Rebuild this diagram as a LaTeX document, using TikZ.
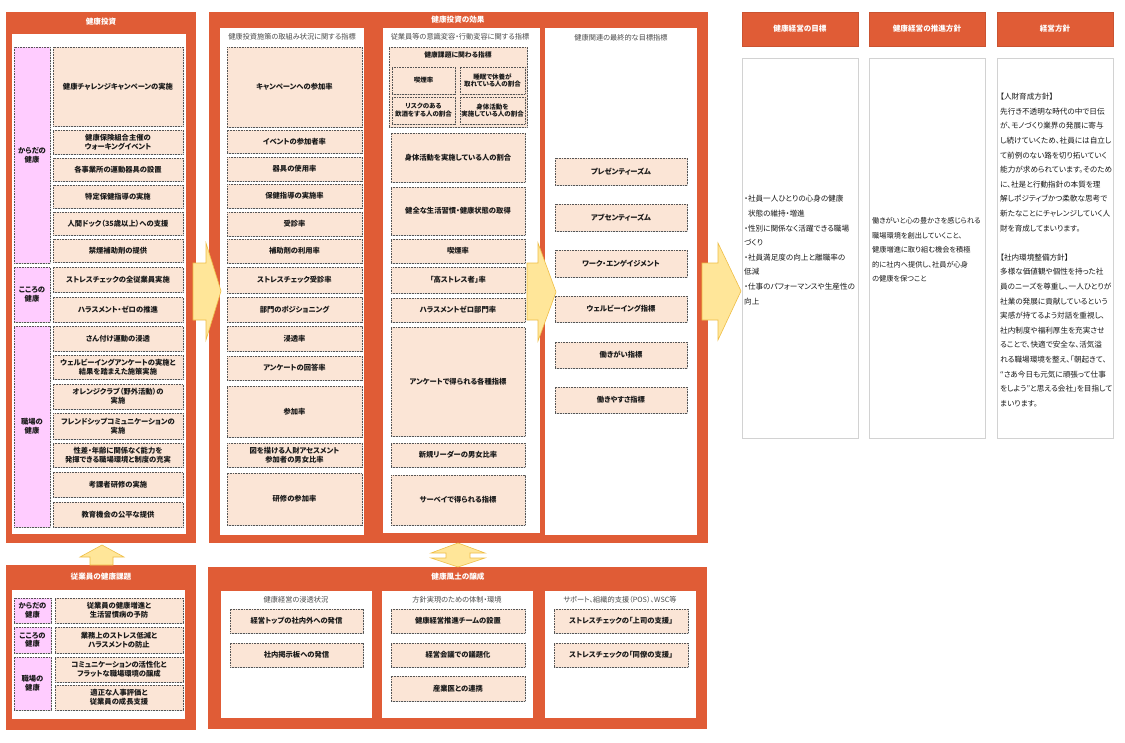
\documentclass[tikz,border=0pt]{standalone}
\usepackage{fontspec}
\setmainfont{Noto Sans CJK JP}[RawFeature=+palt]
\usetikzlibrary{shadows}
\definecolor{org}{RGB}{224,92,54}
\definecolor{peach}{RGB}{251,229,214}
\definecolor{pinkl}{RGB}{255,204,255}
\definecolor{yel}{RGB}{255,230,153}
\definecolor{yeld}{RGB}{238,190,70}
\definecolor{dotc}{RGB}{85,85,85}
\definecolor{txt}{RGB}{25,25,25}
\definecolor{subc}{RGB}{75,75,75}
\newcommand\ibox[7][itembox]{%
  \pgfmathsetmacro\myW{#5-#3}\pgfmathsetmacro\myH{#6-#4}%
  \node[#1,minimum width=\myW pt,minimum height=\myH pt] (#2) at ({(#3+#5)/2},{(#4+#6)/2}) {#7};}
\begin{document}
\begin{tikzpicture}[x=1pt,y=-1pt,
  itembox/.style={draw=dotc,dash pattern=on 0.8pt off 0.8pt,line width=0.7pt,fill=peach,
    inner sep=0pt,align=center,text=txt,font=\bfseries\fontsize{7.3}{8.8}\selectfont,
    drop shadow={shadow xshift=0.6pt,shadow yshift=-0.6pt,opacity=0.3}},
  smallbox/.style={itembox,font=\bfseries\fontsize{6.5}{7.9}\selectfont},
  groupbox/.style={itembox},
  pinkbox/.style={itembox,fill=pinkl},
  panel/.style={fill=org,draw=none,inner sep=0pt},
  whitebox/.style={fill=white,draw=none,inner sep=0pt},
  rbox/.style={fill=white,draw=gray!35,line width=0.8pt,inner sep=0pt},
  hbox/.style={fill=org,draw=org!90!black,line width=0.4pt,inner sep=0pt,text=white,
    font=\bfseries\fontsize{7.6}{9}\selectfont},
  ttl/.style={text=white,font=\bfseries\fontsize{7.6}{9}\selectfont,inner sep=0pt},
  subh/.style={text=subc,font=\fontsize{7.2}{8.4}\selectfont,inner sep=0pt},
  rtext/.style={anchor=west,align=left,text=txt,inner sep=0pt,font=\fontsize{7.6}{14.6}\selectfont},
  bigarrow/.style={fill=yel,draw=yeld,line width=0.6pt,line join=miter}]
\useasboundingbox (0,0) rectangle (1125,742);
\fill[white] (0,0) rectangle (1125,742);

% ---------- orange panels ----------
\ibox[panel]{P1}{6}{12}{196}{543}{}
\ibox[panel]{P2}{209}{12}{708}{543}{}
\ibox[panel]{P3}{6}{565}{196}{730}{}
\ibox[panel]{P4}{208}{567}{707}{729}{}
\node[ttl] (t1) at (101,22) {健康投資};
\node[ttl] (t2) at (458,20) {健康投資の効果};
\node[ttl] (t3) at (101,577) {従業員の健康課題};
\node[ttl] (t4) at (458,577) {健康風土の醸成};

% ---------- white inner panels ----------
\ibox[whitebox]{W1}{12}{34}{186}{534}{}
\ibox[whitebox]{W2a}{220}{28}{364}{535}{}
\ibox[whitebox]{W2b}{383}{28}{540}{533}{}
\ibox[whitebox]{W2c}{545}{28}{697}{535}{}
\ibox[whitebox]{W3}{12}{590}{185}{719}{}
\ibox[whitebox]{W4a}{221}{591}{372}{718}{}
\ibox[whitebox]{W4b}{382}{591}{533}{718}{}
\ibox[whitebox]{W4c}{545}{591}{696}{718}{}

% ---------- sub headings ----------
\node[subh] (h2a) at (292,37) {健康投資施策の取組み状況に関する指標};
\node[subh] (h2b) at (460,37) {従業員等の意識変容・行動変容に関する指標};
\node[subh] (h2c) at (621,38) {健康関連の最終的な目標指標};
\node[subh] (h4a) at (296,600) {健康経営の浸透状況};
\node[subh] (h4b) at (457,600) {方針実現のための体制・環境};
\node[subh] (h4c) at (620,600) {サポート、組織的支援（POS）、WSC等};

% ---------- 健康投資 ----------
\ibox[pinkbox]{K1}{14}{47}{50}{263}{からだの\\健康}
\ibox[pinkbox]{K2}{14}{267}{50}{322}{こころの\\健康}
\ibox[pinkbox]{K3}{14}{326}{50}{527}{職場の\\健康}
\ibox{L1}{53}{47}{183}{126}{健康チャレンジキャンペーンの実施}
\ibox{L2}{53}{130}{183}{154}{健康保険組合主催の\\ウォーキングイベント}
\ibox{L3}{53}{158}{183}{181}{各事業所の運動器具の設置}
\ibox{L4}{53}{185}{183}{208}{特定保健指導の実施}
\ibox{L5}{53}{212}{183}{235}{人間ドック（35歳以上）への支援}
\ibox{L6}{53}{239}{183}{262}{禁煙補助剤の提供}
\ibox{L7}{53}{267}{183}{292}{ストレスチェックの全従業員実施}
\ibox{L8}{53}{297}{183}{322}{ハラスメント・ゼロの推進}
\ibox{L9}{53}{326}{183}{351}{さん付け運動の浸透}
\ibox{L10}{53}{355}{183}{379}{ウェルビーイングアンケートの実施と\\結果を踏まえた施策実施}
\ibox{L11}{53}{384}{183}{409}{オレンジクラブ（野外活動）の\\実施}
\ibox{L12}{53}{413}{183}{439}{フレンドシップコミュニケーションの\\実施}
\ibox{L13}{53}{443}{183}{467}{性差・年齢に関係なく能力を\\発揮できる職場環境と制度の充実}
\ibox{L14}{53}{472}{183}{497}{考課者研修の実施}
\ibox{L15}{53}{502}{183}{527}{教育機会の公平な提供}

% ---------- 効果 col 1 ----------
\ibox{M1}{227}{47}{362}{127}{キャンペーンへの参加率}
\ibox{M2}{227}{130}{362}{153}{イベントの参加者率}
\ibox{M3}{227}{157}{362}{181}{器具の使用率}
\ibox{M4}{227}{184}{362}{208}{保健指導の実施率}
\ibox{M5}{227}{212}{362}{236}{受診率}
\ibox{M6}{227}{239}{362}{263}{補助剤の利用率}
\ibox{M7}{227}{267}{362}{293}{ストレスチェック受診率}
\ibox{M8}{227}{297}{362}{322}{部門のポジショニング}
\ibox{M9}{227}{326}{362}{351}{浸透率}
\ibox{M10}{227}{356}{362}{380}{アンケートの回答率}
\ibox{M11}{227}{386}{362}{437}{参加率}
\ibox{M12}{227}{443}{362}{467}{図を描ける人財アセスメント\\参加者の男女比率}
\ibox{M13}{227}{473}{362}{525}{研修の参加率}

% ---------- 効果 col 2 ----------
\ibox[groupbox]{G}{389}{47}{527}{127}{}
\node[font=\bfseries\fontsize{6.8}{8}\selectfont,text=txt,inner sep=0pt] (Gt) at (458,55) {健康課題に関わる指標};
\ibox[smallbox]{S1}{392}{67}{455}{94}{喫煙率}
\ibox[smallbox]{S2}{460}{67}{525}{94}{睡眠で休養が\\取れている人の割合}
\ibox[smallbox]{S3}{392}{97}{455}{124}{リスクのある\\飲酒をする人の割合}
\ibox[smallbox]{S4}{460}{97}{525}{124}{身体活動を\\実施している人の割合}
\ibox{N1}{391}{133}{525}{182}{身体活動を実施している人の割合}
\ibox{N2}{391}{187}{525}{235}{健全な生活習慣・健康状態の取得}
\ibox{N3}{391}{239}{525}{263}{喫煙率}
\ibox{N4}{391}{267}{525}{293}{「高ストレス者」率}
\ibox{N5}{391}{298}{525}{322}{ハラスメントゼロ部門率}
\ibox{N6}{391}{327}{525}{436}{アンケートで得られる各種指標}
\ibox{N7}{391}{443}{525}{467}{新規リーダーの男女比率}
\ibox{N8}{391}{475}{525}{525}{サーベイで得られる指標}

% ---------- 効果 col 3 ----------
\ibox{F1}{555}{158}{687}{185}{プレゼンティーズム}
\ibox{F2}{555}{204}{687}{231}{アブセンティーズム}
\ibox{F3}{555}{250}{687}{277}{ワーク・エンゲイジメント}
\ibox{F4}{555}{296}{687}{322}{ウェルビーイング指標}
\ibox{F5}{555}{342}{687}{368}{働きがい指標}
\ibox{F6}{555}{387}{687}{413}{働きやすさ指標}

% ---------- 従業員の健康課題 ----------
\ibox[pinkbox]{B1}{14}{598}{51}{623}{からだの\\健康}
\ibox[pinkbox]{B2}{14}{627}{51}{653}{こころの\\健康}
\ibox[pinkbox]{B3}{14}{657}{51}{710}{職場の\\健康}
\ibox{I1}{55}{598}{183}{623}{従業員の健康増進と\\生活習慣病の予防}
\ibox{I2}{55}{627}{183}{653}{業務上のストレス低減と\\ハラスメントの防止}
\ibox{I3}{55}{657}{183}{682}{コミュニケーションの活性化と\\フラットな職場環境の醸成}
\ibox{I4}{55}{685}{183}{710}{適正な人事評価と\\従業員の成長支援}

% ---------- 健康風土の醸成 ----------
\ibox{C1}{230}{609}{363}{633}{経営トップの社内外への発信}
\ibox{C2}{230}{643}{363}{667}{社内掲示板への発信}
\ibox{D1}{391}{609}{525}{633}{健康経営推進チームの設置}
\ibox{D2}{391}{643}{525}{667}{経営会議での議題化}
\ibox{D3}{391}{676}{525}{701}{産業医との連携}
\ibox{E1}{554}{609}{688}{633}{ストレスチェックの「上司の支援」}
\ibox{E2}{554}{643}{688}{667}{ストレスチェックの「同僚の支援」}

% ---------- right side ----------
\ibox[hbox]{H1}{742}{12}{858}{46}{健康経営の目標}
\ibox[hbox]{H2}{869}{12}{985}{46}{健康経営の推進方針}
\ibox[hbox]{H3}{997}{12}{1113}{46}{経営方針}
\ibox[rbox]{R1}{742}{58}{858}{438}{}
\ibox[rbox]{R2}{869}{58}{985}{438}{}
\ibox[rbox]{R3}{997}{58}{1113}{438}{}
\node[rtext] (T1) at (744,250) {・社員一人ひとりの心身の健康\\\hspace*{0.5em}状態の維持・増進\\・性別に関係なく活躍できる職場\\づくり\\・社員満足度の向上と離職率の\\低減\\・仕事のパフォーマンスや生産性の\\向上};
\node[rtext,font=\fontsize{7.2}{14.6}\selectfont] (T2) at (872,250) {働きがいと心の豊かさを感じられる\\職場環境を創出していくこと、\\健康増進に取り組む機会を積極\\的に社内へ提供し、社員が心身\\の健康を保つこと};
\node[rtext] (T3) at (1000,250) {【人財育成方針】\\先行き不透明な時代の中で日伝\\が、モノづくり業界の発展に寄与\\し続けていくため、社員には自立し\\て前例のない路を切り拓いていく\\能力が求められています。そのため\\に、社是と行動指針の本質を理\\解しポジティブかつ柔軟な思考で\\新たなことにチャレンジしていく人\\財を育成してまいります。\\[14.6pt]【社内環境整備方針】\\多様な価値観や個性を持った社\\員のニーズを尊重し、一人ひとりが\\社業の発展に貢献しているという\\実感が持てるよう対話を重視し、\\社内制度や福利厚生を充実させ\\ることで、快適で安全な、活気溢\\れる職場環境を整え、「朝起きて、\\“さあ今日も元気に頑張って仕事\\をしよう”と思える会社」を目指して\\まいります。};

% ---------- big arrows ----------
\filldraw[bigarrow] (193,263) -- (206,263) -- (206,243) -- (221,291) -- (206,340) -- (206,320) -- (193,320) -- cycle;
\filldraw[bigarrow] (527,263) -- (538,263) -- (538,243) -- (556,292) -- (538,341) -- (538,320) -- (527,320) -- cycle;
\filldraw[bigarrow] (702,263) -- (718,263) -- (718,243) -- (741,291) -- (718,340) -- (718,320) -- (702,320) -- cycle;
\filldraw[bigarrow] (90,565) -- (90,557) -- (80,557) -- (102,545) -- (124,557) -- (113,557) -- (113,565) -- cycle;
\filldraw[bigarrow] (458,543) -- (485,553) -- (470,553) -- (470,558) -- (485,558) -- (458,567) -- (431,558) -- (446,558) -- (446,553) -- (431,553) -- cycle;
\end{tikzpicture}
\end{document}
